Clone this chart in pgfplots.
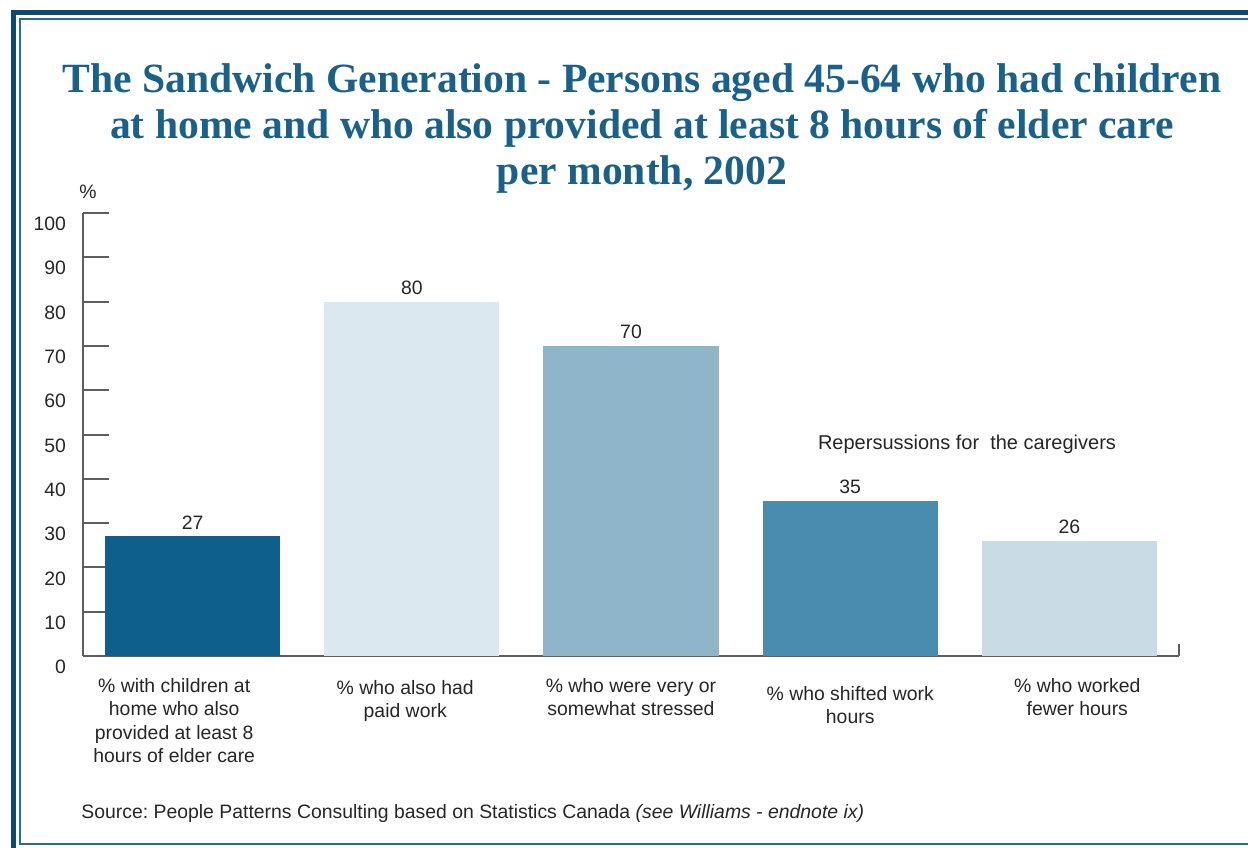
\documentclass[border=0pt]{standalone}
\usepackage{pgfplots}
\pgfplotsset{compat=1.18}
\usepackage{fontspec}
\setmainfont{Liberation Sans}
\newfontfamily\titlefont{Liberation Serif}
\frenchspacing
\definecolor{frameblue}{HTML}{0D4A72}
\definecolor{framethin}{HTML}{2E6A90}
\definecolor{titleblue}{HTML}{1A6088}
\definecolor{barA}{HTML}{0F5F8D}
\definecolor{barB}{HTML}{DCE8EF}
\definecolor{barC}{HTML}{8EB5CA}
\definecolor{barD}{HTML}{4A8CB0}
\definecolor{barE}{HTML}{C9DCE6}
\definecolor{axisgray}{HTML}{5E5E5E}
\begin{document}
\begin{tikzpicture}
\useasboundingbox (0,0) rectangle (624pt,-423.5pt);
\begin{scope}
\clip (0,0) rectangle (624pt,-423.5pt);
\fill[white] (0,0) rectangle (624pt,-423.5pt);
\draw[frameblue, line width=2.5pt] (6.75pt,-6.25pt) rectangle (640pt,-440pt);
\draw[framethin, line width=0.8pt] (10pt,-9.5pt) rectangle (640pt,-422pt);
\end{scope}
\begin{scope}[every node/.style={anchor=base, inner sep=0pt, text=titleblue, font=\titlefont\bfseries\fontsize{20.8}{23}\selectfont}]
\node at (321pt,-46pt) {The Sandwich Generation - Persons aged 45-64 who had children};
\node at (321pt,-69pt) {at home and who also provided at least 8 hours of elder care};
\node at (321pt,-92pt) {per month, 2002};
\end{scope}
\node[font=\fontsize{9.7}{10}\selectfont, text=black!85] at (44pt,-96pt) {\%};
\begin{axis}[
 at={(41.5pt,-328pt)}, anchor=south west,
 scale only axis, width=548pt, height=221.5pt,
 xmin=-0.5, xmax=4.5, ymin=0, ymax=100,
 enlargelimits=false,
 axis x line=bottom, axis y line=left,
 axis line style={axisgray, line width=1pt, -},
 ytick={0,10,...,100},
 ytick style={axisgray, line width=1pt},
 tick align=inside, major tick length=13pt,
 xtick={-0.084,0.97,2,3,4.036}, xtick style={draw=none},
 xticklabels={{\% with children at\\home who also\\provided at least 8\\hours of elder care},
   {\rule{0pt}{8pt}\% who also had\\paid work},
   {\% who were very or\\somewhat stressed},
   {\rule{0pt}{11pt}\% who shifted work\\hours},
   {\% who worked\\fewer hours}},
 xticklabel style={align=center, font=\fontsize{9.7}{11.75}\selectfont, text=black!85, yshift=5.5pt},
 yticklabel style={font=\fontsize{9.7}{10}\selectfont, text=black!85, xshift=-5pt, yshift=-5.5pt},
 /pgf/number format/assume math mode=true,
 ybar, bar width=0.8,
 nodes near coords,
 every node near coord/.append style={font=\fontsize{9.7}{10}\selectfont, text=black!85},
 clip=false,
]
\addplot[fill=barA, draw=none, bar shift=0pt] coordinates {(0,27)};
\addplot[fill=barB, draw=none, bar shift=0pt] coordinates {(1,80)};
\addplot[fill=barC, draw=none, bar shift=0pt] coordinates {(2,70)};
\addplot[fill=barD, draw=none, bar shift=0pt] coordinates {(3,35)};
\addplot[fill=barE, draw=none, bar shift=0pt] coordinates {(4,26)};
\draw[axisgray, line width=1pt] (axis cs:4.5,0) -- (axis cs:4.5,2.6);
\end{axis}
\node[font=\fontsize{10}{10}\selectfont, text=black!85] at (483.5pt,-222pt) {Repersussions for~ the caregivers};
\node[anchor=west, inner sep=0pt, font=\fontsize{9.7}{10}\selectfont, text=black!85] at (40.5pt,-406.5pt) {Source: People Patterns Consulting based on Statistics Canada \textit{(see Williams - endnote ix)}};
\end{tikzpicture}
\end{document}
